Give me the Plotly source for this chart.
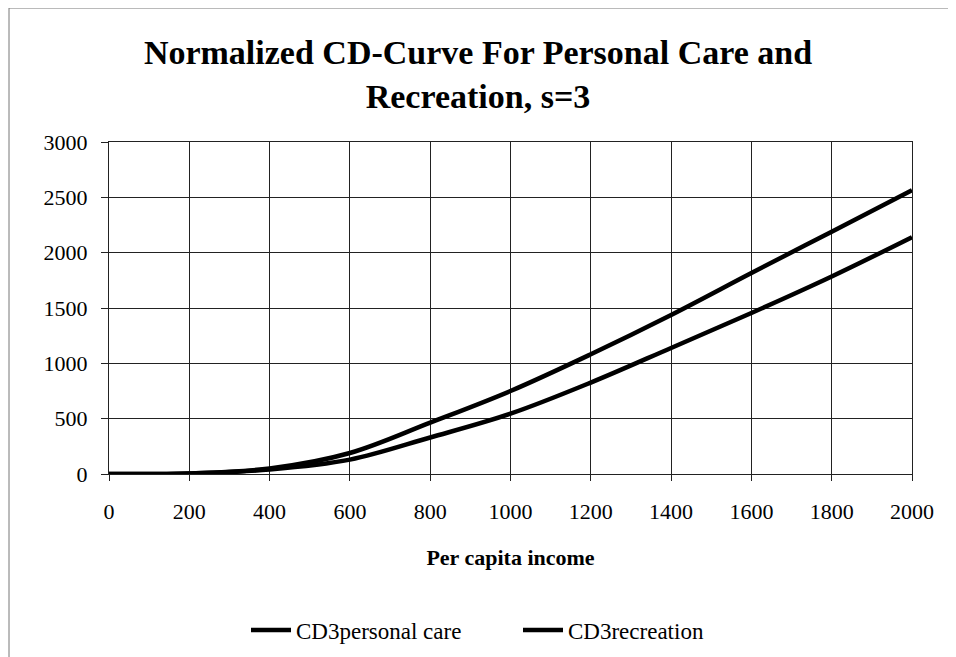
import plotly.graph_objects as go

# per capita income (x) and normalized CD-curve values
income = [0, 200, 400, 600, 800, 1000, 1200, 1400, 1600, 1800, 2000]
cd3_personal_care = [0, 4, 40, 130, 330, 545, 826, 1139, 1455, 1785, 2140]
cd3_recreation = [0, 5, 50, 190, 464, 750, 1082, 1437, 1816, 2190, 2565]

y_ticks = [0, 500, 1000, 1500, 2000, 2500, 3000]
x_ticks = [0, 200, 400, 600, 800, 1000, 1200, 1400, 1600, 1800, 2000]

W, H = 956, 657
L, R, T, B = 101, 52, 134, 191
serif = 'Liberation Serif, Times New Roman, serif'

fig = go.Figure()
fig.add_trace(go.Scatter(
    x=income, y=cd3_personal_care, mode='lines', name='CD3personal care',
    line=dict(color='black', width=4.5, shape='spline'),
))
fig.add_trace(go.Scatter(
    x=income, y=cd3_recreation, mode='lines', name='CD3recreation',
    line=dict(color='black', width=4.5, shape='spline'),
))

pw, ph = W - L - R, H - T - B


def px_x(px):
    return (px - L) / pw


def px_y(py):
    return (H - B - py) / ph


# outer chart frame, like the Excel chart border
fig.add_shape(
    type='rect', xref='paper', yref='paper',
    x0=px_x(1), x1=px_x(946), y0=px_y(656), y1=px_y(0),
    line=dict(color='#777', width=1), layer='below',
)

fig.update_layout(
    width=W, height=H,
    paper_bgcolor='white', plot_bgcolor='white',
    margin=dict(l=L, r=R, t=T, b=B),
    font=dict(family=serif, color='black', size=22),
    title=dict(
        text='<b>Normalized CD-Curve For Personal Care and<br>Recreation, s=3</b>',
        x=470 / W, xanchor='center', y=1 - 56 / H, yanchor='middle',
        font=dict(size=34, family=serif, color='black'),
    ),
    showlegend=True,
    legend=dict(
        orientation='h', x=238 / W, xanchor='left', xref='container',
        y=1 - 622 / H, yanchor='middle', yref='container',
        font=dict(size=23, family=serif), itemwidth=40,
        entrywidth=217, entrywidthmode='pixels',
    ),
)
fig.update_xaxes(
    range=[0, 2000], tickvals=x_ticks, showgrid=True, gridcolor='#222', gridwidth=1,
    showline=True, linecolor='#222', linewidth=1, mirror=True,
    ticks='outside', ticklen=6, tickcolor='#222', ticklabelstandoff=12,
    tickfont=dict(size=22, family=serif), zeroline=False,
    title=dict(text='<b>Per capita income</b>', font=dict(size=22, family=serif), standoff=26),
)
fig.update_yaxes(
    range=[0, 3000], tickvals=y_ticks, showgrid=True, gridcolor='#222', gridwidth=1,
    showline=True, linecolor='#222', linewidth=1, mirror=True,
    ticks='outside', ticklen=7, tickcolor='#222', ticklabelstandoff=9,
    tickfont=dict(size=22, family=serif), zeroline=False,
)

fig.write_html('out.html')
